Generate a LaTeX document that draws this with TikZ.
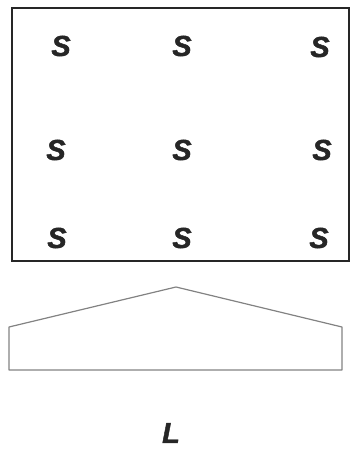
\documentclass[tikz,border=0pt]{standalone}
\usepackage{fontspec}
\newfontfamily\heavysans{Liberation Sans}[BoldItalicFeatures={FakeBold=1.6}]
\begin{document}
\begin{tikzpicture}[x=1pt, y=-1pt, font=\heavysans\bfseries\itshape\fontsize{29}{29}\selectfont]
		\definecolor{edgegray}{RGB}{130, 130, 130}
		\useasboundingbox (0,0) rectangle (351,449);
		
		% 外框（粗黑线）
		\draw[line width=2.6pt, black!85] (12,8) rectangle (349,261);
		
		% 九个 S
		\foreach \nm/\px/\py in {s11/61/46, s12/182/46, s13/320/47,
			s21/56/150, s22/182/150, s23/322/150,
			s31/57/238, s32/182/238, s33/319/238}
		\node[black!85, inner sep=0pt] (\nm) at (\px,\py) {S};
		
		% 底部五边形（灰色细线）
		\draw[edgegray, line width=1.2pt, line join=round]
		(9,327) -- (176,287) -- (342,327) -- (342,370) -- (9,370) -- cycle;
		
		% 长度标记
		\node[black!85, inner sep=0pt] (len) at (171,433) {L};
	\end{tikzpicture}
\end{document}
